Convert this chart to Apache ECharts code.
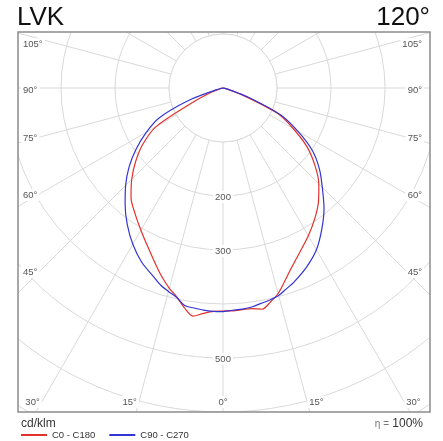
<!DOCTYPE html>
<html><head><meta charset="utf-8">
<script src="https://cdn.jsdelivr.net/npm/echarts@6/dist/echarts.min.js"></script>
<style>html,body{margin:0;padding:0;background:#fff}#c{width:443px;height:441px}</style>
</head><body><div id="c"></div>
<script>
// gamma angles (degrees from nadir) for each half-plane
const gammas = [0,2.5,5,7.5,10,12.5,15,17.5,20,25,30,35,40,45,50,55,60,65,70,75,80,85,90];
// C0 - C180 plane (red), cd/klm
const c180 = [413,414,419,426,413,396,384,370,355,327,304,284,265,239,211,181,143,57,22,7,2,0,0];
const c0   = [413,413,412,412,416,406,394,377,361,336,316,296,275,251,222,190,150,112,40,10,2,0,0];
// C90 - C270 plane (blue), cd/klm
const c270 = [414,414,413,411,409,397,390,383,373,356,334,309,282,255,227,196,164,130,70,15,3,0,0];
const c90  = [413,412,411,409,405,402,398,390,383,366,346,319,291,260,233,202,160,118,50,10,2,0,0];
// tick labels
const angleTickLabels = [0,15,30,45,60,75,90,105];
const radiusTickLabels = [200,300,500];
const seriesNames = ['C0 - C180','C90 - C270'];

const CX = 223, CY = 88, R = 432, RMAX = 800;
const BOX = {x1:18, y1:32, x2:430, y2:412};
const FONT = '"Liberation Sans", Arial, sans-serif';

function halfToPolar(left, right) {
  const pts = [];
  for (let i = gammas.length - 1; i >= 0; i--) pts.push([left[i], gammas[i]]);
  for (let i = 0; i < gammas.length; i++) pts.push([right[i], 360 - gammas[i]]);
  return pts;
}

const chart = echarts.init(document.getElementById('c'), null, {renderer:'canvas'});
chart.setOption({
  animation: false,
  polar: {center:[CX, CY], radius:[0, R]},
  angleAxis: {type:'value', min:0, max:360, interval:15, startAngle:270, clockwise:true,
    axisLine:{show:false}, axisTick:{show:false}, axisLabel:{show:false},
    splitLine:{show:true, lineStyle:{color:'#d9d9d9', width:1}}},
  radiusAxis: {type:'value', min:0, max:RMAX, interval:100,
    axisLine:{show:false}, axisTick:{show:false}, axisLabel:{show:false},
    splitLine:{show:true, lineStyle:{color:'#d9d9d9', width:1}}},
  legend: {left:21, top:430, padding:0, itemWidth:26, itemHeight:2, itemGap:14, icon:'rect', z:20,
    textStyle:{fontSize:9.5, color:'#333', fontFamily:FONT}, data:seriesNames},
  series: [
    {name:seriesNames[0], type:'line', coordinateSystem:'polar', symbol:'none', z:3, smooth:0.3,
     lineStyle:{width:1.2, color:'#e3312c'}, itemStyle:{color:'#e3312c'}, data:halfToPolar(c180, c0)},
    {name:seriesNames[1], type:'line', coordinateSystem:'polar', symbol:'none', z:4, smooth:0.3,
     lineStyle:{width:1.2, color:'#3434d4'}, itemStyle:{color:'#3434d4'}, data:halfToPolar(c270, c90)}
  ]
});

function px(val, ang) { return chart.convertToPixel({seriesIndex:0}, [val, ang]); }

const g = [];
// inner blank disk (radius 100)
const p100 = px(100, 0);
const r100 = Math.hypot(p100[0]-CX, p100[1]-CY);
g.push({type:'circle', shape:{cx:CX, cy:CY, r:r100}, style:{fill:'#fff', stroke:'#d9d9d9', lineWidth:1}, z:1});
// masks outside the frame
const W = 443, H = 441;
[[0,0,W,BOX.y1],[0,BOX.y2,W,H-BOX.y2],[0,0,BOX.x1,H],[BOX.x2,0,W-BOX.x2,H]].forEach(r=>{
  g.push({type:'rect', shape:{x:r[0], y:r[1], width:r[2], height:r[3]}, style:{fill:'#fff'}, z:10});
});
g.push({type:'rect', shape:{x:BOX.x1, y:BOX.y1, width:BOX.x2-BOX.x1, height:BOX.y2-BOX.y1},
  style:{fill:'none', stroke:'#8c8c8c', lineWidth:1.5}, z:11});

function txt(x, y, text, size, color, align, valign, bg) {
  const st = {text:text, fill:color, font: size + 'px ' + FONT, textAlign:align, textVerticalAlign:valign, align:align, verticalAlign:valign};
  if (bg) { st.backgroundColor = '#fff'; st.padding = [1,2]; }
  return {type:'text', x:x, y:y, style:st, z:12};
}

// angle labels
angleTickLabels.forEach(a => {
  const sides = a === 0 ? [0] : [a, 360 - a];
  sides.forEach(ang => {
    const p = px(700, ang);
    const dx = p[0]-CX, dy = p[1]-CY;
    const left = ang > 0 && ang < 180;
    const label = a + '°';
    if (a <= 30) {
      const y = 402;
      const x = CX + dx * (y - CY) / dy;
      g.push(txt(x, y, label, 9.5, '#555', a === 0 ? 'center' : (left ? 'right' : 'left'), 'middle', true));
    } else {
      const xe = left ? 41 : 405;
      const y = CY + dy * (xe - CX) / dx + (a > 90 ? 5 : 2);
      g.push(txt(left ? 21 : 424, y, label, 9.5, '#555', left ? 'left' : 'right', 'middle', true));
    }
  });
});
// radius labels
radiusTickLabels.forEach(v => {
  const p = px(v, 0);
  g.push(txt(p[0], p[1] + 1, String(v), 9.5, '#555', 'center', 'middle', true));
});
// titles & footer
g.push(txt(17, 18, 'LVK', 26, '#111', 'left', 'middle', false));
g.push(txt(430, 18, '120°', 26, '#111', 'right', 'middle', false));
g.push(txt(21, 424, 'cd/klm', 12, '#333', 'left', 'middle', false));
g.push({type:'text', x:423, y:424, z:12, style:{
  text:'{a|η =} {b|100%}', textAlign:'right', align:'right', textVerticalAlign:'middle', verticalAlign:'middle',
  rich:{a:{fontSize:10, fill:'#777', color:'#777', fontFamily:FONT}, b:{fontSize:12, fill:'#333', color:'#333', fontFamily:FONT}}}});
chart.setOption({graphic: g});
</script></body></html>
